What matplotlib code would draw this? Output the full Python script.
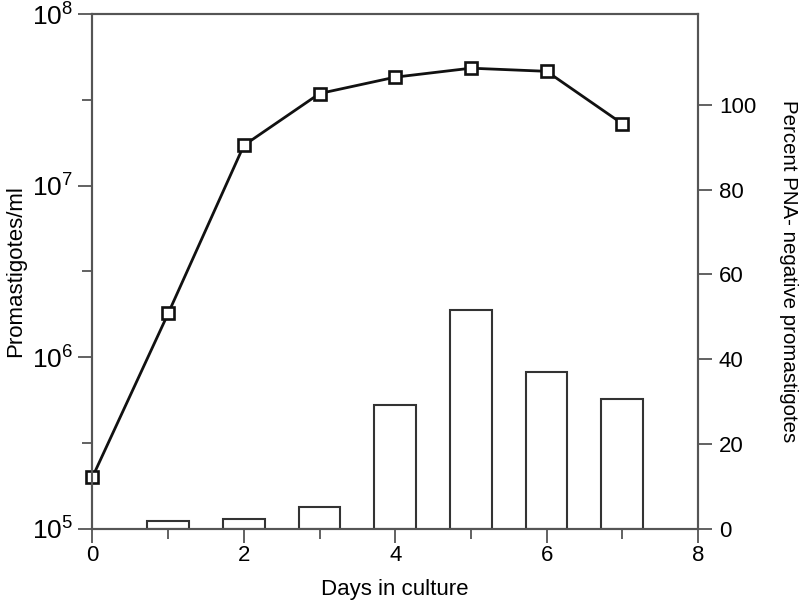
import matplotlib.pyplot as plt
import numpy as np

plt.rcParams['font.family'] = ['Liberation Sans', 'DejaVu Sans']
plt.rcParams['mathtext.fontset'] = 'custom'
plt.rcParams['mathtext.rm'] = 'Liberation Sans'

# growth curve (left axis, log)
days = [0, 1, 2, 3, 4, 5, 6, 7]
promastigotes = [2.0e5, 1.8e6, 1.72e7, 3.45e7, 4.3e7, 4.85e7, 4.65e7, 2.3e7]

# bars (right axis)
bar_days = [1, 2, 3, 4, 5, 6, 7]
pna_negative = [1.9, 2.2, 5.1, 29.2, 51.6, 36.9, 30.7]

axis_col = '#555555'

fig = plt.figure(figsize=(8, 6.06), dpi=100)
ax = fig.add_axes([0.1156, 0.1276, 0.7569, 0.8488])
ax2 = ax.twinx()

ax2.bar(bar_days, pna_negative, width=0.55, facecolor='white',
        edgecolor='#333333', linewidth=1.5)
ax2.set_ylim(0, 121.4)
ax2.set_yticks([0, 20, 40, 60, 80, 100])
ax2.set_ylabel('Percent PNA- negative promastigotes', fontsize=14.8,
               rotation=270, labelpad=30)

ax.set_zorder(ax2.get_zorder() + 1)
ax.patch.set_visible(False)
ax.plot(days, promastigotes, color='#111111', linewidth=2, marker='s',
        markersize=8, markerfacecolor='white', markeredgewidth=1.9,
        markeredgecolor='#111111', clip_on=False)
ax.set_yscale('log')
ax.set_ylim(1e5, 1e8)
ax.set_yticks([1e5, 1e6, 1e7, 1e8])
ax.set_yticks([10 ** 5.5, 10 ** 6.5, 10 ** 7.5], minor=True)
ax.set_yticklabels([], minor=True)
ax.set_xlim(0, 8)
ax.set_xticks([0, 2, 4, 6, 8])
ax.set_xticks([1, 3, 5, 7], minor=True)
ax.set_xlabel('Days in culture', fontsize=16, labelpad=9)
ax.set_ylabel('Promastigotes/ml', fontsize=16, labelpad=4)

for a in (ax, ax2):
    for s in a.spines.values():
        s.set_color(axis_col)
        s.set_linewidth(1.5)
    a.tick_params(which='major', direction='out', length=10, width=1.3,
                  color=axis_col, labelsize=16, pad=5)
    a.tick_params(which='minor', direction='out', length=7, width=1.3,
                  color=axis_col)
ax.tick_params(axis='x', which='major', pad=2)
ax.tick_params(axis='y', which='major', labelsize=19, pad=4)

plt.savefig('out.png', dpi=100)
